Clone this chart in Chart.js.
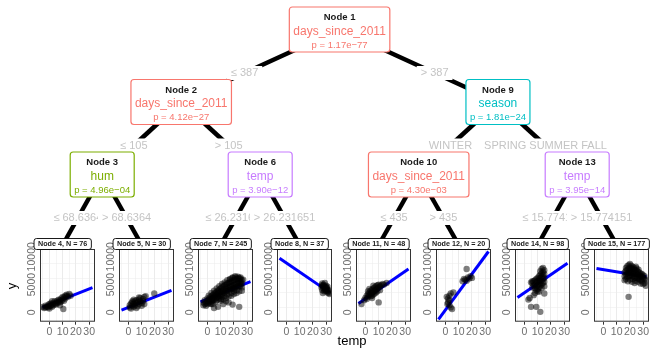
<!DOCTYPE html>
<html>
<head>
<meta charset="utf-8">
<script src="https://cdn.jsdelivr.net/npm/chart.js@4.4.1/dist/chart.umd.min.js"></script>
<style>
  body { margin: 0; background: #fff; }
  #wrap { position: relative; width: 650px; height: 348px; overflow: hidden; background: #fff; }
  #wrap canvas { position: absolute; }
</style>
</head>
<body>
<div id="wrap"><canvas id="tree" width="650" height="348" style="left:0;top:0"></canvas></div>
<script>
// ---- tree structure ----
const innerIds = [1, 2, 3, 6, 9, 10, 13];
const splitVars = ['days_since_2011', 'days_since_2011', 'hum', 'temp', 'season', 'days_since_2011', 'temp'];
const pValues = ['1.17e\u221277', '4.12e\u221227', '4.96e\u221204', '3.90e\u221212', '1.81e\u221224', '4.30e\u221203', '3.95e\u221214'];
const childLeft = [2, 3, 4, 7, 10, 11, 14];
const childRight = [9, 6, 5, 8, 13, 12, 15];
const leftLabels = ['\u2264 387', '\u2264 105', '\u2264 68.6364', '\u2264 26.231651', 'WINTER', '\u2264 435', '\u2264 15.774151'];
const rightLabels = ['> 387', '> 105', '> 68.6364', '> 26.231651', 'SPRING SUMMER FALL', '> 435', '> 15.774151'];

const varNames = ['days_since_2011', 'hum', 'season', 'temp'];
const varColors = ['#F8766D', '#7CAE00', '#00BFC4', '#C77CFF'];

// ---- leaves ----
const leafIds = [4, 5, 7, 8, 11, 12, 14, 15];
const leafN = [76, 30, 245, 37, 48, 20, 98, 177];

// fitted line: cnt at temp = tempRange[0] and tempRange[1]
const tempRange = [-5.22, 32.5];
const lineStart = [900, 400, 1900, 9750, 1600, -1250, 2700, 7900];
const lineEnd = [4450, 3950, 5550, 3600, 7800, 10950, 8850, 6400];

const xTicks = [0, 10, 20, 30];
const yTicks = [0, 5000, 10000];

// points [temp, cnt]
const node4 = [[-5,1000],[-4,800],[-3,1200],[-3,900],[-2,1000],[-1,1300],[-1,900],[0,1100],[0,1500],[1,1200],
  [1,1600],[2,1400],[2,1000],[3,1700],[3,1300],[4,1500],[4,2000],[5,1800],[5,1400],[6,2100],[6,1700],[7,1900],
  [7,2300],[8,2200],[8,1800],[9,2500],[9,2000],[10,2300],[10,2800],[11,2100],[11,2700],[12,3000],[12,2500],
  [13,2900],[13,3200],[14,2800],[15,3300],[16,3000],[10.5,600],[8,1300],[0,700],[2,2000]];
const node5 = [[1,900],[1,1300],[2,700],[2,1600],[3,1200],[3,1800],[4,1000],[4,1500],[5,2000],[5,1300],[6,1700],
  [6,2200],[7,1100],[7,1900],[8,1500],[8,2300],[9,2000],[9,2600],[10,1700],[10,1200],[11,2400],[11,2000],
  [12,2800],[12,1500],[13,2900],[6,800],[4,2300],[8,2700],[19.5,3400],[3,2000]];
const node7 = [[-3,1300],[-3,1800],[-2,1500],[-2,2200],[-1,1700],[-1,1200],[0,2000],[0,1500],[0,2500],[1,1800],
  [1,2300],[2,2100],[2,2700],[2,1600],[3,2400],[3,2900],[3,1900],[4,2600],[4,3100],[4,2200],[5,2800],[5,3300],
  [5,2300],[5,800],[6,3000],[6,3500],[6,2500],[7,3200],[7,3700],[7,2700],[8,3400],[8,3900],[8,2800],[8,1000],
  [9,3600],[9,4100],[9,3000],[10,3700],[10,4300],[10,3100],[10,2400],[11,3900],[11,4500],[11,3300],[12,4000],
  [12,4700],[12,3500],[12,1500],[13,4200],[13,4900],[13,3600],[14,4300],[14,5000],[14,3800],[14,2000],[15,4500],
  [15,5200],[15,3900],[16,4600],[16,5300],[16,4000],[16,1800],[17,4700],[17,5400],[17,4100],[18,4800],[18,5500],
  [18,4200],[19,4900],[19,5600],[19,4300],[19,1400],[20,5000],[20,5800],[20,4400],[21,5100],[21,5900],[21,4500],
  [22,5200],[22,6000],[22,4600],[23,5300],[23,6100],[23,4700],[24,5400],[24,6200],[24,4700],[24,1000],[25,5300],
  [25,6000],[25,4800],[26,5200],[26,5800],[26,4500],[18,3500],[20,3800],[22,4000],[15,3200],[11,2800],[13,3000],
  [21,6300],[23,5700],[17,5900],[19,6200],[25,5600],[9,2500],[7,2200],[3,1500],
  [1,3000],[3,3500],[5,3900],[7,4300],[9,4700],[11,5100],[13,5400],[15,5800],[17,6000],[19,6300],[21,6500],
  [23,6400],[25,6300],[27,5900],[4,1500],[6,1900],[10,2100],[14,2600],[18,3000],[20,3300],[22,3500],[24,3800],
  [26,3900],[12,2300],[16,2900]];
const node8 = [[26.5,4500],[27,5200],[27,4000],[27.5,4700],[28,4300],[28,5000],[28.5,3800],[29,4600],[29,5300],
  [29.5,4200],[30,4800],[30,3900],[30.5,4400],[31,3600],[31,4100],[31.5,3800],[32,3500],[32.5,3300],[27.5,3500],
  [28,4800],[29,4000],[30,4500],[31,4600],[26.8,4900],[32,4000]];
const node11 = [[-3,1500],[-1,2200],[0,2600],[1,3000],[1,2400],[2,3300],[2,2800],[3,3600],[3,3100],[4,3900],
  [4,3300],[4,2900],[5,4100],[5,3500],[5,3000],[6,4300],[6,3700],[6,3200],[7,4500],[7,3900],[7,3400],[8,4700],
  [8,4100],[8,3600],[9,4900],[9,4300],[10,4500],[10,5000],[10,1800],[11,4700],[12,4900],[13,5100],[14,5000],
  [16,5300],[3,4200],[6,4800],[9,3800],[2,3800],[5,2600],[11,4000]];
const node12 = [[16,7800],[13,5600],[14,6000],[15,5900],[17,6300],[18,6100],[19,6500],[20,6200],[16,5700],
  [1,2800],[2,2500],[3,3000],[4,3400],[6,3600],[2,1800],[3,1300],[4,900],[5,600],[3,2200],[1.5,1500]];
const node14 = [[3,2300],[4,2600],[5,1000],[9,1000],[12,100],[15,3400],[6,5300],[6,4500],[7,5600],[7,4800],
  [8,5000],[8,5800],[8,4300],[9,6000],[9,5400],[9,4700],[10,6200],[10,5600],[10,4900],[10,4200],[11,6500],
  [11,5800],[11,5200],[11,4500],[12,6800],[12,6200],[12,5500],[12,4800],[13,7000],[13,6400],[13,5700],[13,5000],
  [14,7300],[14,6700],[14,6000],[14,5300],[15,7600],[15,6900],[15,6200],[15,5500],[13,7800],[14,8000],[12,7400],
  [10,3800],[8,3500],[7,3100],[11,3700],[13,4400],[15,4700],[9,4000],[6,5600],[5,5400]];
const node15 = [[16,6500],[16,7200],[16,5800],[17,6800],[17,7500],[17,6000],[17,8000],[18,7000],[18,7700],
  [18,6300],[18,8300],[19,7100],[19,7800],[19,6500],[19,8500],[19,2800],[20,7200],[20,8000],[20,6600],[20,8700],
  [20,5900],[21,7300],[21,7900],[21,6700],[21,8400],[22,7200],[22,7800],[22,6500],[22,8200],[22,6000],[23,7100],
  [23,7700],[23,6400],[23,8000],[24,7000],[24,7600],[24,6300],[24,5700],[25,6900],[25,7500],[25,6200],[25,7900],
  [26,6800],[26,7300],[26,6100],[26,5500],[27,6700],[27,7200],[27,6000],[28,6600],[28,7000],[28,5800],[28,5200],
  [29,6400],[29,6900],[29,5600],[30,6200],[30,6700],[30,5100],[31,6000],[31,6500],[31,5300],[32,5800],[32,4800],
  [18.5,5600],[21.5,5500],[23.5,5300],[20.5,7600],[24.5,8200],[26.5,7700],[19.5,7400],[22.5,6900],[27.5,6400]];
const leafPoints = [node4, node5, node7, node8, node11, node12, node14, node15];

// ---- layout ----
const FONT = '"Liberation Sans", Arial, sans-serif';
Chart.defaults.font.family = FONT;
const wrap = document.getElementById('wrap');
const rowY = [29.5, 102, 174.5, 245];
const leafLeft = leafIds.map((_, i) => Math.round(16 + 79.1 * i));
const yAxisW = 24, plotW = 55;

// node positions from leaf columns
const pos = {};
leafIds.forEach((id, i) => { pos[id] = { x: leafLeft[i] + yAxisW + 22.7 }; });
for (let k = innerIds.length - 1; k >= 0; k--) {
  pos[innerIds[k]] = { x: (pos[childLeft[k]].x + pos[childRight[k]].x) / 2 };
}
pos[1].d = 0;
innerIds.forEach((id, k) => {
  pos[childLeft[k]].d = pos[id].d + 1;
  pos[childRight[k]].d = pos[id].d + 1;
});
Object.values(pos).forEach(p => { p.y = rowY[p.d]; });

const edges = [];
innerIds.forEach((id, k) => {
  edges.push({ from: id, to: childLeft[k], label: leftLabels[k] });
  edges.push({ from: id, to: childRight[k], label: rightLabels[k] });
});

const treeDecor = {
  id: 'treeDecor',
  afterDatasetsDraw(chart) {
    const { ctx, scales: { x, y } } = chart;
    ctx.save();
    ctx.textAlign = 'center';
    ctx.textBaseline = 'middle';

    // edge labels
    ctx.font = '11px ' + FONT;
    edges.forEach(e => {
      const p = pos[e.from], c = pos[e.to];
      const ly = p.y + 43.5;
      const lx = p.x + (c.x - p.x) * (ly - p.y) / (c.y - p.y);
      const w = ctx.measureText(e.label).width + 8;
      ctx.fillStyle = '#fff';
      ctx.fillRect(x.getPixelForValue(lx) - w / 2, y.getPixelForValue(ly) - 7, w, 14);
      ctx.fillStyle = '#C4C4C4';
      ctx.fillText(e.label, x.getPixelForValue(lx), y.getPixelForValue(ly));
    });

    // inner node boxes
    innerIds.forEach((id, k) => {
      const col = varColors[varNames.indexOf(splitVars[k])];
      const t0 = 'Node ' + id, t1 = splitVars[k], t2 = 'p = ' + pValues[k];
      ctx.font = 'bold 9.5px ' + FONT; const w0 = ctx.measureText(t0).width;
      ctx.font = '12px ' + FONT; const w1 = ctx.measureText(t1).width;
      ctx.font = '9.5px ' + FONT; const w2 = ctx.measureText(t2).width;
      const w = Math.max(w0, w1, w2) + 8, h = 45;
      const cx = x.getPixelForValue(pos[id].x), top = y.getPixelForValue(pos[id].y) - h / 2;
      ctx.beginPath();
      ctx.roundRect(cx - w / 2, top, w, h, 3);
      ctx.fillStyle = '#fff';
      ctx.fill();
      ctx.strokeStyle = col;
      ctx.lineWidth = 1.2;
      ctx.stroke();
      ctx.fillStyle = '#1a1a1a';
      ctx.font = 'bold 9.5px ' + FONT;
      ctx.fillText(t0, cx, top + 10.5);
      ctx.fillStyle = col;
      ctx.font = '12px ' + FONT;
      ctx.fillText(t1, cx, top + 24.5);
      ctx.font = '9.5px ' + FONT;
      ctx.fillText(t2, cx, top + 38);
    });

    // axis titles
    ctx.fillStyle = '#000';
    ctx.font = '13px ' + FONT;
    ctx.fillText('temp', 352, 341);
    ctx.translate(12.5, 286);
    ctx.rotate(-Math.PI / 2);
    ctx.fillText('y', 0, 0);
    ctx.restore();
  }
};

new Chart(document.getElementById('tree'), {
  type: 'scatter',
  plugins: [treeDecor],
  data: {
    datasets: edges.map(e => ({
      showLine: true,
      borderColor: '#000',
      borderWidth: 4.5,
      borderCapStyle: 'butt',
      pointRadius: 0,
      data: [{ x: pos[e.from].x, y: pos[e.from].y }, { x: pos[e.to].x, y: pos[e.to].y }]
    }))
  },
  options: {
    responsive: false,
    animation: false,
    events: [],
    layout: { padding: 0 },
    plugins: { legend: { display: false }, tooltip: { enabled: false } },
    scales: {
      x: { type: 'linear', min: 0, max: 650, display: false },
      y: { type: 'linear', min: 0, max: 348, reverse: true, display: false }
    }
  }
});

const leafDecor = {
  id: 'leafDecor',
  afterDraw(chart, args, opts) {
    const { ctx, chartArea: a, scales: { y } } = chart;
    ctx.save();
    ctx.strokeStyle = '#333';
    ctx.lineWidth = 1;
    ctx.strokeRect(a.left + 0.5, a.top + 0.5, a.right - a.left - 1, a.bottom - a.top - 1);

    ctx.fillStyle = '#6e6e6e';
    ctx.font = '10.5px ' + FONT;
    ctx.textAlign = 'center';
    ctx.textBaseline = 'middle';
    yTicks.forEach(v => {
      ctx.save();
      ctx.translate(a.left - 8, y.getPixelForValue(v));
      ctx.rotate(-Math.PI / 2);
      ctx.fillText(String(v), 0, 0);
      ctx.restore();
    });

    // strip label
    ctx.font = 'bold 7.2px ' + FONT;
    const w = ctx.measureText(opts.title).width + 8;
    const cx = a.left + 22.7, cy = a.top - 5;
    ctx.beginPath();
    ctx.roundRect(cx - w / 2, cy - 5.5, w, 11, 2.5);
    ctx.fillStyle = '#fff';
    ctx.fill();
    ctx.strokeStyle = '#000';
    ctx.lineWidth = 0.9;
    ctx.stroke();
    ctx.fillStyle = '#1a1a1a';
    ctx.fillText(opts.title, cx, cy + 0.3);
    ctx.restore();
  }
};

leafIds.forEach((id, i) => {
  const cv = document.createElement('canvas');
  cv.width = yAxisW + plotW + 5;
  cv.height = 112;
  cv.style.left = leafLeft[i] + 'px';
  cv.style.top = '236px';
  wrap.appendChild(cv);

  new Chart(cv, {
    type: 'scatter',
    plugins: [leafDecor],
    data: {
      datasets: [
        {
          data: leafPoints[i].map(p => ({ x: p[0], y: p[1] })),
          pointRadius: 3.2,
          pointBorderWidth: 0,
          backgroundColor: 'rgba(0,0,0,0.5)'
        },
        {
          showLine: true,
          data: [{ x: tempRange[0], y: lineStart[i] }, { x: tempRange[1], y: lineEnd[i] }],
          borderColor: '#0000FF',
          borderWidth: 3,
          pointRadius: 0
        }
      ]
    },
    options: {
      responsive: false,
      animation: false,
      events: [],
      layout: { padding: { top: 13, right: 5, bottom: 0, left: 0 } },
      plugins: {
        legend: { display: false },
        tooltip: { enabled: false },
        leafDecor: { title: 'Node ' + id + ', N = ' + leafN[i] }
      },
      scales: {
        x: {
          type: 'linear', min: -7.1, max: 34.4,
          afterFit: s => { s.height = 26.3; },
          border: { display: false },
          grid: {
            color: '#EBEBEB',
            lineWidth: c => xTicks.includes(c.tick.value) ? 1 : 0.5,
            tickColor: c => xTicks.includes(c.tick.value) ? '#333' : 'rgba(0,0,0,0)',
            tickLength: 3
          },
          ticks: {
            stepSize: 5, includeBounds: false, autoSkip: false,
            maxRotation: 0, minRotation: 0, padding: 1,
            color: '#6e6e6e', font: { size: 10.5 },
            callback: v => xTicks.includes(v) ? String(v) : ''
          }
        },
        y: {
          type: 'linear', min: -1670, max: 11400,
          afterFit: s => { s.width = yAxisW; },
          border: { display: false },
          grid: {
            color: '#EBEBEB',
            lineWidth: c => yTicks.includes(c.tick.value) ? 1 : 0.5,
            tickColor: c => yTicks.includes(c.tick.value) ? '#333' : 'rgba(0,0,0,0)',
            tickLength: 3
          },
          ticks: { stepSize: 2500, includeBounds: false, display: false }
        }
      }
    }
  });
});
</script>
</body>
</html>
